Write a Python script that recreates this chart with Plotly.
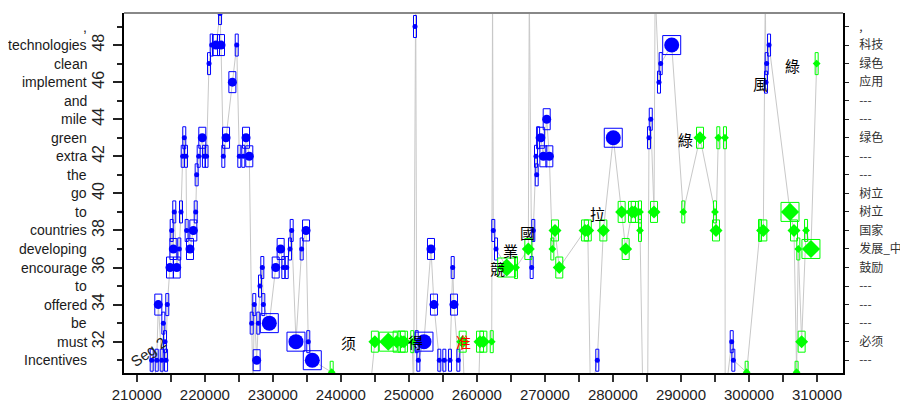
import plotly.graph_objects as go

# ---------------- data ----------------
seq_x = [212190, 212400, 212930, 213160, 213660, 213750, 213900, 214150, 214300, 214480,
         214880, 215130, 215370, 215510, 215870, 216250, 216500, 216750, 216980, 217230,
         217330, 217820, 218310, 218660, 218800, 219100, 219630, 219870, 220250, 220620,
         221010, 221640, 222240, 222380, 222720, 223120, 224050, 224690, 225070, 225660,
         226060, 226540, 226890, 227100, 227270, 227620, 227860, 228110, 228450, 228600,
         229480, 230420, 231150, 231540, 232040, 232520, 232770, 233400, 234240, 234880,
         235210, 235800, 238650, 244200, 245000, 246970, 248200, 248930, 249280, 250500,
         250700, 250900, 251000, 251150, 251390, 252220, 253250, 253690, 254470, 254800,
         255210, 256040, 256440, 256630, 257270, 257910, 258200, 260200, 260460, 260950,
         262180, 262300, 262410, 262810, 264380, 265750, 267560, 267700, 268050, 268290,
         268690, 268790, 269000, 269400, 269770, 270260, 270650, 271090, 271480, 272110,
         275900, 276300, 276700, 277700, 278590, 280050, 281280, 281870, 282800, 283200,
         283980, 283980, 284400, 285100, 285300, 285560, 286040, 286200, 286770, 287020,
         288640, 290340, 292800, 295000, 295150, 295490, 296470, 296500, 297460, 297700,
         299660, 301620, 302110, 302400, 302500, 302600, 302950, 306030, 306620, 307000,
         307250, 307740, 308390, 309110, 309950]
seq_y = [31, 29, 31, 34, 31, 29, 33, 32, 31, 34,
         36, 38, 37, 39, 36, 37, 39, 42, 43, 42,
         38, 37, 38, 39, 41, 42, 43, 42, 42, 47,
         48, 48, 49.7, 48, 42, 43, 46, 48, 42, 42,
         43, 42, 33, 29, 34, 31, 33, 35, 36, 34,
         33, 36, 37, 36, 36, 37, 38, 32, 37, 38,
         32, 31, 30.35, 29, 32, 32, 32, 32, 32, 32,
         29, 49, 51, 32, 31, 32, 37, 34, 31, 29,
         31, 31, 36, 34, 31, 32, 29, 29, 32, 32,
         32, 51, 38, 37, 36, 36, 37, 51, 36, 38,
         42, 41, 43, 43, 42, 44, 42, 37, 38, 36,
         38, 38, 29, 31, 38, 43, 39, 37, 39, 39,
         39, 38, 29, 29, 43, 44, 39, 51, 46, 47,
         48, 39, 43, 39, 38, 43, 43, 29, 32, 31,
         30.35, 38, 38, 51, 46, 47, 48, 39, 38, 30.35,
         37, 32, 38, 37, 47]
# b = English-side point (blue), g = Chinese-side point (green), n = off-chart excursion
seq_kind = ['b', 'n', 'b', 'b', 'b', 'n', 'b', 'b', 'b', 'b',
            'b', 'b', 'b', 'b', 'b', 'b', 'b', 'b', 'b', 'b',
            'b', 'b', 'b', 'b', 'b', 'b', 'b', 'b', 'b', 'b',
            'b', 'b', 'b', 'b', 'b', 'b', 'b', 'b', 'b', 'b',
            'b', 'b', 'b', 'n', 'b', 'b', 'b', 'b', 'b', 'b',
            'b', 'b', 'b', 'b', 'b', 'b', 'b', 'b', 'b', 'b',
            'b', 'b', 'g', 'n', 'g', 'g', 'g', 'g', 'g', 'g',
            'n', 'b', 'n', 'b', 'b', 'b', 'b', 'b', 'b', 'n',
            'b', 'b', 'b', 'b', 'b', 'g', 'n', 'n', 'g', 'g',
            'g', 'n', 'b', 'b', 'g', 'g', 'g', 'n', 'b', 'b',
            'b', 'b', 'b', 'b', 'b', 'b', 'b', 'g', 'g', 'g',
            'g', 'g', 'n', 'b', 'g', 'b', 'g', 'g', 'g', 'g',
            'g', 'g', 'n', 'n', 'b', 'b', 'g', 'n', 'b', 'b',
            'b', 'g', 'g', 'g', 'g', 'g', 'g', 'n', 'b', 'b',
            'g', 'g', 'g', 'n', 'b', 'b', 'b', 'g', 'g', 'g',
            'g', 'g', 'g', 'g', 'g']
seq_w = [1, 0, 1, 2, 1, 0, 1, 1, 1, 1,
         2, 1, 2, 1, 2, 1, 1, 1, 1, 1,
         1, 2, 2, 1, 1, 1, 2, 1, 1, 1,
         1, 2, 1, 2, 1, 2, 2, 1, 1, 1,
         2, 2, 1, 0, 1, 2, 1, 1, 1, 1,
         3, 2, 2, 1, 1, 1, 1, 3, 1, 2,
         1, 3, 1, 0, 2, 3, 2, 2, 2, 1,
         0, 1, 0, 1, 1, 3, 2, 2, 1, 0,
         1, 1, 1, 2, 1, 2, 0, 0, 2, 2,
         1, 0, 1, 1, 3, 1, 2, 0, 1, 1,
         1, 1, 1, 2, 2, 2, 2, 1, 2, 2,
         2, 2, 0, 1, 2, 3, 2, 2, 2, 2,
         1, 1, 0, 0, 1, 1, 2, 0, 1, 1,
         3, 1, 2, 1, 2, 1, 1, 0, 1, 1,
         1, 1, 2, 0, 1, 1, 1, 3, 2, 1,
         1, 2, 1, 3, 1]

y_word_vals = list(range(31, 50))
left_words = ["Incentives", "must", "be", "offered", "to", "encourage", "developing",
              "countries", "to", "go", "the", "extra", "green", "mile", "and",
              "implement", "clean", "technologies", ","]
right_words = ["---", "必须", "---", "---", "---", "鼓励", "发展_中", "国家", "树立",
               "树立", "---", "---", "绿色", "---", "---", "应用", "绿色", "科技", ","]

note_text = ["须", "得", "准", "競", "業", "國", "拉", "綠", "風", "綠"]
note_x = [241100, 250900, 258000, 263100, 264870, 267370, 277660, 290600, 301620, 306330]
note_y = [31.95, 32.0, 32.0, 35.97, 36.94, 37.91, 38.94, 42.93, 45.95, 46.92]
note_red = [False, False, True, False, False, False, False, False, False, False]

seg_label = "Seg 2"
seg_x, seg_y = 211790, 31.45

# ---------------- geometry / style ----------------
# the page body keeps its default 8px margin, so the figure is 8px smaller
W, H = 900, 392
ML, MR, MT, MB = 116, 65, 5, 27
x_range = [208118, 313822]
y_range = [30.31, 49.73]
ux = (x_range[1] - x_range[0]) / (W - ML - MR)   # data units per pixel (x)
uy = (y_range[1] - y_range[0]) / (H - MT - MB)   # data units per pixel (y)

BLUE = "#0000ff"
GREEN = "#00ff00"
circle_size = {1: 5, 2: 9, 3: 15}
diamond_size = {1: 6, 2: 10, 3: 14}
box_hw_px = {1: 1.5, 2: 3.5, 3: 9}
box_hh_px = {1: 11, 2: 10.5, 3: 9.5}

fig = go.Figure()

# grey connecting path
fig.add_trace(go.Scatter(x=seq_x, y=seq_y, mode="lines",
                         line=dict(color="#c8c8c8", width=1),
                         hoverinfo="skip", showlegend=False))


def boxes(kind):
    bx, by = [], []
    for x, y, k, w in zip(seq_x, seq_y, seq_kind, seq_w):
        if k != kind:
            continue
        hw = box_hw_px[w] * ux
        hh = box_hh_px[w] * uy
        bx += [x - hw, x + hw, x + hw, x - hw, x - hw, None]
        by += [y - hh, y - hh, y + hh, y + hh, y - hh, None]
    return bx, by


for kind, col in (("b", BLUE), ("g", GREEN)):
    bx, by = boxes(kind)
    fig.add_trace(go.Scatter(x=bx, y=by, mode="lines",
                             line=dict(color=col, width=1),
                             hoverinfo="skip", showlegend=False))

bxs = [x for x, k in zip(seq_x, seq_kind) if k == "b"]
bys = [y for y, k in zip(seq_y, seq_kind) if k == "b"]
bss = [circle_size[w] for w, k in zip(seq_w, seq_kind) if k == "b"]
gxs = [x for x, k in zip(seq_x, seq_kind) if k == "g"]
gys = [y for y, k in zip(seq_y, seq_kind) if k == "g"]
gss = [diamond_size[w] for w, k in zip(seq_w, seq_kind) if k == "g"]

fig.add_trace(go.Scatter(x=bxs, y=bys, mode="markers",
                         marker=dict(symbol="circle", color=BLUE, size=bss, opacity=1,
                                     line=dict(width=0)),
                         showlegend=False))
fig.add_trace(go.Scatter(x=gxs, y=gys, mode="markers",
                         marker=dict(symbol="diamond", color=GREEN, size=gss, opacity=1,
                                     line=dict(width=0)),
                         showlegend=False))
# invisible trace anchoring the right axis
fig.add_trace(go.Scatter(x=seq_x[:1], y=seq_y[:1], yaxis="y2", mode="markers",
                         marker=dict(opacity=0), hoverinfo="skip", showlegend=False))

annotations = []
for yv, word in zip(y_word_vals, left_words):
    annotations.append(dict(x=0, xref="paper", y=yv, yref="y", text=word,
                            xanchor="right", yanchor="middle", xshift=-35,
                            showarrow=False,
                            font=dict(family="Liberation Sans, Arial", size=14,
                                      color="#1a1a1a")))
for t, x, y, red in zip(note_text, note_x, note_y, note_red):
    annotations.append(dict(x=x, y=y, xref="x", yref="y", text=t, showarrow=False,
                            font=dict(family="Noto Sans CJK TC", size=15,
                                      color="#ff0000" if red else "#000000")))
annotations.append(dict(x=seg_x, y=seg_y, xref="x", yref="y", text=seg_label,
                        showarrow=False, textangle=-35,
                        font=dict(family="Liberation Sans, Arial", size=15,
                                  color="#222222")))

axis_font = dict(family="Liberation Sans, Arial", size=15, color="#222222")

fig.update_layout(
    width=W, height=H,
    margin=dict(l=ML, r=MR, t=MT, b=MB, pad=0, autoexpand=False),
    paper_bgcolor="white", plot_bgcolor="white",
    showlegend=False,
    xaxis=dict(range=x_range, tick0=0, dtick=10000, tickformat="d",
               ticks="outside", ticklen=7, tickwidth=1.5, tickcolor="#333333",
               minor=dict(dtick=5000, ticks="outside", ticklen=7, tickwidth=1.5,
                          tickcolor="#333333"),
               showline=True, linecolor="#000000", linewidth=1.5,
               showgrid=False, zeroline=False, tickfont=axis_font,
               ticklabelstandoff=0, automargin=False),
    yaxis=dict(range=y_range, tick0=0, dtick=2, tickangle=-90,
               ticks="outside", ticklen=9, tickwidth=1.5, tickcolor="#222222",
               minor=dict(dtick=1, ticks="outside", ticklen=5, tickwidth=1.5,
                          tickcolor="#222222"),
               showline=True, linecolor="#000000", linewidth=1.5,
               showgrid=False, zeroline=False, automargin=False,
               tickfont=dict(family="Liberation Sans, Arial", size=16, color="#222222"),
               ticklabelstandoff=3),
    yaxis2=dict(range=y_range, overlaying="y", side="right",
                tickvals=y_word_vals, ticktext=right_words,
                ticks="outside", ticklen=4, tickwidth=1.2, tickcolor="#222222",
                showline=True, linecolor="#000000", linewidth=1.5,
                showgrid=False, zeroline=False, ticklabelstandoff=8, automargin=False,
                tickfont=dict(family="Noto Sans CJK SC", size=12, color="#333333")),
    annotations=annotations,
    shapes=[dict(type="line", xref="paper", yref="paper", x0=0, x1=1, y0=1, y1=1,
                 line=dict(color="#888888", width=2))],
)

fig.write_html("out.html")
